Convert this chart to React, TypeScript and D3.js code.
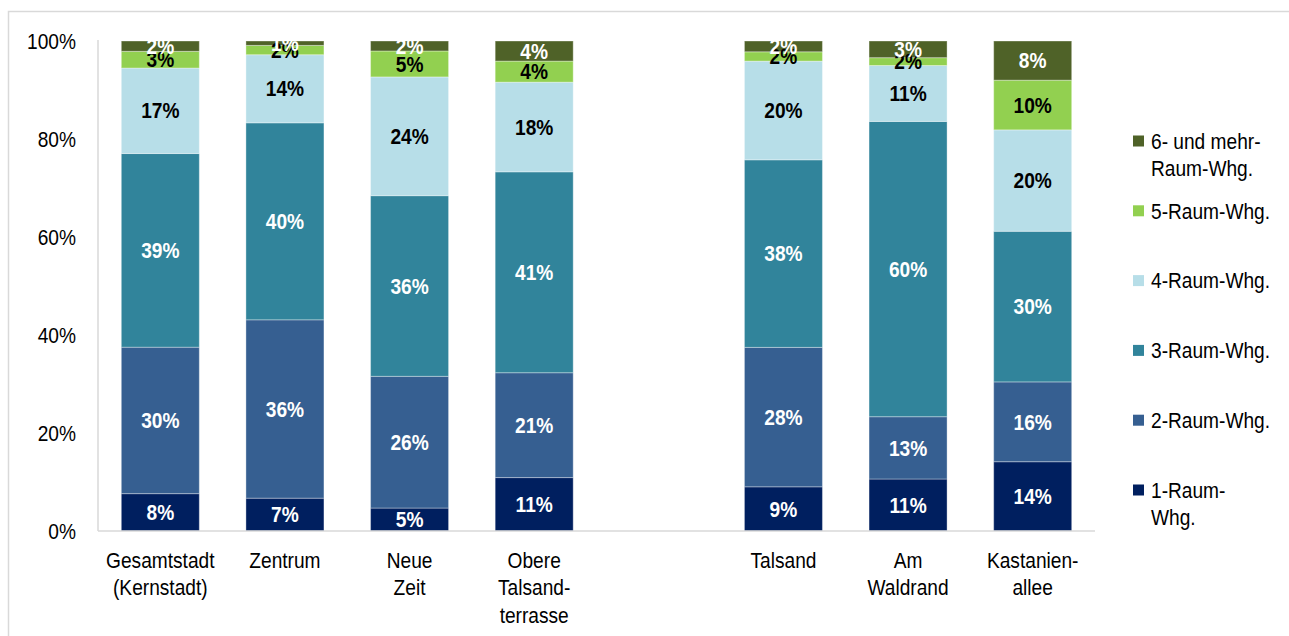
import React from "react";
import * as d3 from "d3";

const categories = ["Gesamtstadt (Kernstadt)", "Zentrum", "Neue Zeit", "Obere Talsandterrasse", "Talsand", "Am Waldrand", "Kastanienallee"];
const categoryLines = [["Gesamtstadt", "(Kernstadt)"], ["Zentrum"], ["Neue", "Zeit"], ["Obere", "Talsand-", "terrasse"], ["Talsand"], ["Am", "Waldrand"], ["Kastanien-", "allee"]];
const gapAfter = 3;

const seriesNames = ["1-Raum-Whg.", "2-Raum-Whg.", "3-Raum-Whg.", "4-Raum-Whg.", "5-Raum-Whg.", "6- und mehr-Raum-Whg."];
const legendLines = [["1-Raum-", "Whg."], ["2-Raum-Whg."], ["3-Raum-Whg."], ["4-Raum-Whg."], ["5-Raum-Whg."], ["6- und mehr-", "Raum-Whg."]];
const seriesColors = ["#001F5F", "#365F91", "#31849B", "#B7DEE8", "#92D050", "#4F6228"];
const labelColors = ["#FFFFFF", "#FFFFFF", "#FFFFFF", "#000000", "#000000", "#FFFFFF"];

const raum1 = [7.6, 6.7, 4.6, 10.9, 9.0, 10.6, 13.8];
const raum2 = [29.8, 36.4, 26.4, 21.4, 28.4, 12.7, 15.9];
const raum3 = [39.4, 40.2, 36.2, 41.0, 38.2, 60.2, 30.0];
const raum4 = [17.4, 13.9, 23.8, 18.3, 20.1, 11.4, 20.2];
const raum5 = [3.4, 1.9, 5.2, 4.3, 1.9, 1.6, 9.9];
const raum6 = [2.1, 0.9, 2.0, 4.1, 2.2, 3.4, 7.8];
const seriesValues = [raum1, raum2, raum3, raum4, raum5, raum6];

const yTicks = [0, 0.2, 0.4, 0.6, 0.8, 1.0];
const yTickLabels = ["0%", "20%", "40%", "60%", "80%", "100%"];

const FONT = "'Liberation Sans', Arial, sans-serif";
const SX = 0.87;

function T(props: { x: number; y: number; anchor?: string; weight?: string | number; fill?: string; size?: number; children: any }) {
  const { x, y, anchor = "middle", weight = "normal", fill = "#000", size = 22, children } = props;
  return (
    <text
      transform={`translate(${x},${y}) scale(${SX},1)`}
      textAnchor={anchor as any}
      fontWeight={weight as any}
      fill={fill}
      fontSize={size}
      fontFamily={FONT}
      dy="0.35em"
    >
      {children}
    </text>
  );
}

export default function App() {
  const W = 1289, H = 636;
  const plotLeft = 98, plotRight = 1095, plotTop = 41, plotBottom = 531;

  const slots: string[] = [];
  categories.forEach((c, i) => {
    slots.push(c);
    if (i === gapAfter) slots.push("__gap__");
  });

  const x = d3.scaleBand<string>().domain(slots).range([plotLeft, plotRight]).paddingInner(0.374).paddingOuter(0.187);
  const y = d3.scaleLinear().domain([0, 1]).range([plotBottom, plotTop]);

  const table = categories.map((c, i) => {
    const row: any = { cat: c };
    seriesNames.forEach((s, j) => (row[s] = seriesValues[j][i]));
    return row;
  });
  const stack = d3.stack<any>().keys(seriesNames).offset(d3.stackOffsetExpand);
  const stacked = stack(table);

  const legendX = 1133;
  const legendTop = 141;
  const legendStep = 69.8;

  return (
    <svg width={W} height={H} style={{ position: "absolute", left: 0, top: 0 }} fontFamily={FONT}>
      <rect x={0} y={0} width={W} height={H} fill="#fff" />
      <rect x={8.5} y={11.5} width={W + 20} height={H + 20} fill="none" stroke="#D9D9D9" strokeWidth={1.5} />
      <defs>
        <clipPath id="plotclip">
          <rect x={0} y={plotTop - 1} width={W} height={H} />
        </clipPath>
      </defs>

      {/* y tick labels */}
      {yTicks.map((t, i) => (
        <T key={t} x={76} y={y(t)} anchor="end">
          {yTickLabels[i]}
        </T>
      ))}

      {/* bars */}
      {stacked.map((layer, j) => (
        <g key={seriesNames[j]} fill={seriesColors[j]}>
          {layer.map((d, i) => (
            <rect
              key={i}
              x={x(categories[i])!}
              y={y(d[1])}
              width={x.bandwidth()}
              height={y(d[0]) - y(d[1])}
              stroke="rgba(255,255,255,0.35)"
              strokeWidth={1}
            />
          ))}
        </g>
      ))}

      {/* axes */}
      <line x1={plotLeft} x2={plotLeft} y1={plotTop - 1} y2={plotBottom} stroke="#D9D9D9" strokeWidth={1.5} />
      <line x1={plotLeft} x2={plotRight} y1={plotBottom} y2={plotBottom} stroke="#D9D9D9" strokeWidth={1.5} />

      {/* data labels */}
      <g clipPath="url(#plotclip)">
        {stacked.map((layer, j) => (
          <g key={"l" + j}>
            {layer.map((d, i) => (
              <T key={i} x={x(categories[i])! + x.bandwidth() / 2} y={(y(d[0]) + y(d[1])) / 2} weight="bold" fill={labelColors[j]}>
                {Math.round(seriesValues[j][i]) + "%"}
              </T>
            ))}
          </g>
        ))}
      </g>

      {/* x labels */}
      {categories.map((c, i) => (
        <g key={c}>
          {categoryLines[i].map((line, k) => (
            <T key={k} x={x(c)! + x.bandwidth() / 2} y={560 + k * 27.5}>
              {line}
            </T>
          ))}
        </g>
      ))}

      {/* legend */}
      {seriesNames
        .map((s, j) => ({ s, j }))
        .reverse()
        .map(({ s, j }, idx) => {
          const cy = legendTop + idx * legendStep;
          return (
            <g key={s}>
              <rect x={legendX} y={cy - 5.5} width={11} height={11} fill={seriesColors[j]} />
              {legendLines[j].map((line, k) => (
                <T key={k} x={legendX + 18} y={cy + k * 27} anchor="start">
                  {line}
                </T>
              ))}
            </g>
          );
        })}
    </svg>
  );
}
